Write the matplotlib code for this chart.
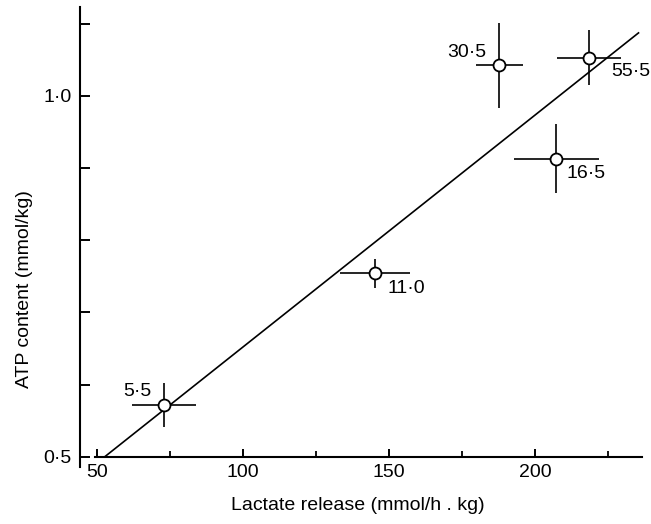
import numpy as np
import matplotlib
matplotlib.use("Agg")
import matplotlib.pyplot as plt
from matplotlib.ticker import FixedLocator, FixedFormatter

# values
lactate = [72.9, 145.2, 207.3, 187.7, 218.5]
lactate_err = [11.0, 12.0, 14.5, 8.0, 11.0]
atp = [0.572, 0.754, 0.913, 1.042, 1.053]
atp_err = [0.030, 0.020, 0.048, 0.059, 0.038]
labels = ["5·5", "11·0", "16·5", "30·5", "55·5"]
label_offsets = [(-26, 13), (31, -15), (30, -15), (-32, 13), (42, -14)]

fit_slope = 0.003212
fit_intercept = 0.4916  # value at x = 50
fit_range = [52.6, 235.4]

plt.rcParams["font.family"] = ["Liberation Sans", "DejaVu Sans"]

fig = plt.figure(figsize=(6.51, 5.24), dpi=100)
ax = fig.add_axes([0.1229, 0.1088, 0.8633, 0.8779])
ax.set_xlim(44.2, 236.6)
ax.set_ylim(0.486, 1.123)

xs = np.array(fit_range)
ax.plot(xs, fit_intercept + fit_slope * (xs - 50), color="black", lw=1.2, zorder=2)

ax.errorbar(lactate, atp, xerr=lactate_err, yerr=atp_err, fmt="none",
            ecolor="black", elinewidth=1.2, capsize=0, zorder=3)
ax.plot(lactate, atp, "o", ms=8.6, mfc="white", mec="black", mew=1.3, zorder=4)

for x, y, t, off in zip(lactate, atp, labels, label_offsets):
    ax.annotate(t, (x, y), xytext=off, textcoords="offset pixels",
                ha="center", va="center", fontsize=14)

for s in ["top", "right"]:
    ax.spines[s].set_visible(False)
ax.spines["bottom"].set_position(("data", 0.5))
ax.spines["bottom"].set_bounds(49.5, 236.6)
ax.spines["left"].set_linewidth(1.5)
ax.spines["bottom"].set_linewidth(1.5)

ax.xaxis.set_major_locator(FixedLocator([50, 100, 150, 200]))
ax.xaxis.set_minor_locator(FixedLocator([75, 125, 175, 225]))
ax.yaxis.set_major_locator(FixedLocator([0.5, 0.6, 0.7, 0.8, 0.9, 1.0, 1.1]))
ax.yaxis.set_major_formatter(FixedFormatter(["0·5", "", "", "", "", "1·0", ""]))

ax.tick_params(axis="x", which="major", direction="in", length=6, width=1.4,
               labelsize=14, pad=5)
ax.tick_params(axis="x", which="minor", direction="in", length=4, width=1.3)
ax.tick_params(axis="y", which="major", direction="in", length=7, width=1.4,
               labelsize=14, pad=6)

ax.set_xlabel("Lactate release (mmol/h . kg)", fontsize=14)
ax.xaxis.set_label_coords(0.495, -0.065)
ax.set_ylabel("ATP content (mmol/kg)", fontsize=14)
ax.yaxis.set_label_coords(-0.084, 0.387)

fig.savefig("out.png", dpi=100)
